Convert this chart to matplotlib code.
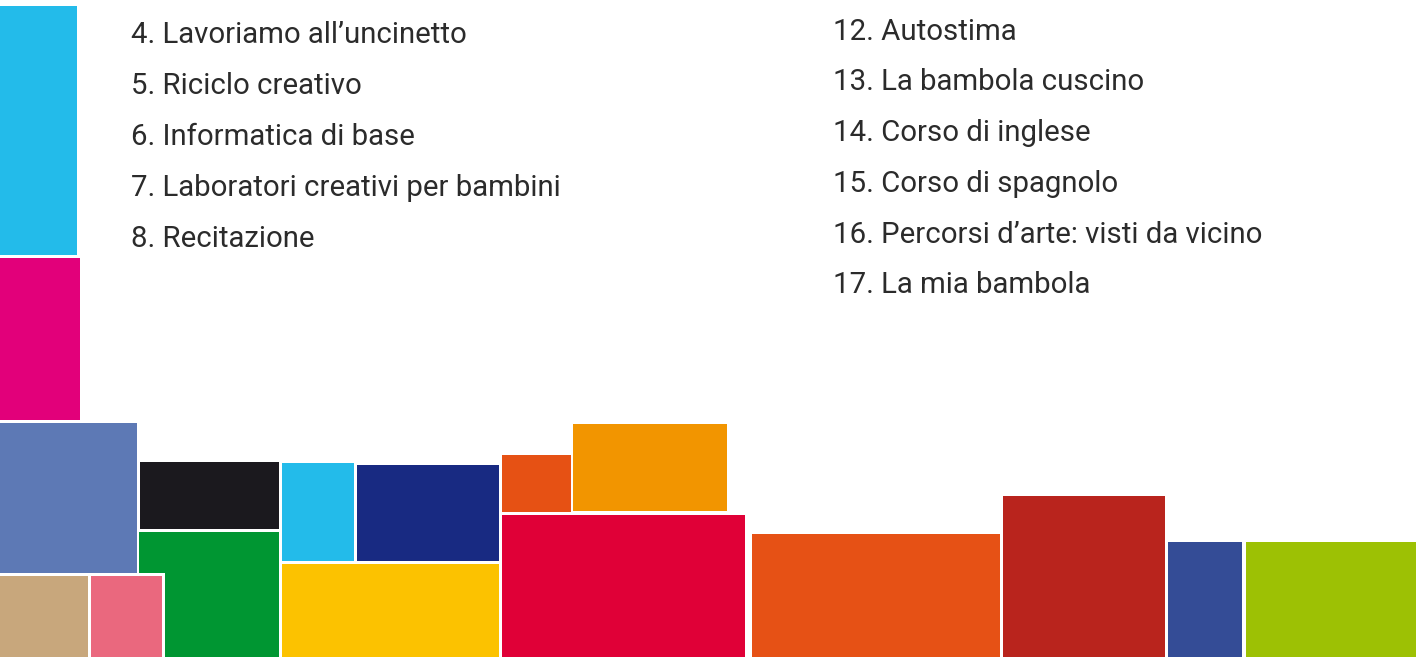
import matplotlib
matplotlib.use("Agg")
import matplotlib.pyplot as plt

# blocks of the mosaic (pixel space, y grows downward)
block_x0 = [0, 0, 0, 140, 139, 165, 0, 91, 282, 357, 282, 502, 573, 502, 752, 1003, 1168, 1246]
block_x1 = [77, 80, 137, 279, 279, 279, 88, 162, 354, 499, 499, 571, 727, 745, 1000, 1165, 1242, 1416]
block_y0 = [6, 258, 423, 462, 532, 573, 576, 576, 463, 465, 564, 455, 424, 515, 534, 496, 542, 542]
block_y1 = [255, 420, 573, 529, 573, 657, 657, 657, 561, 561, 657, 512, 511, 657, 657, 657, 657, 657]
block_colors = ["#23BBEA", "#E2007A", "#5D79B5", "#1B191E", "#009632", "#009632",
                "#C8A77C", "#EA687E", "#23BBEA", "#182A82", "#FCC200", "#E65114",
                "#F29500", "#E00037", "#E65115", "#B9241D", "#344C96", "#9DC104"]

left_items = ["4. Lavoriamo all\u2019uncinetto", "5. Riciclo creativo", "6. Informatica di base",
              "7. Laboratori creativi per bambini", "8. Recitazione"]
left_base = [43, 94, 145, 196, 247]
right_items = ["12. Autostima", "13. La bambola cuscino", "14. Corso di inglese",
               "15. Corso di spagnolo", "16. Percorsi d\u2019arte: visti da vicino", "17. La mia bambola"]
right_base = [40, 90, 141, 192, 243, 293]

fig = plt.figure(figsize=(14.16, 6.57), dpi=100)
ax = fig.add_axes([0, 0, 1, 1])
ax.set_xlim(0, 1416)
ax.set_ylim(657, 0)
ax.axis("off")

for x0, x1, y0, y1, c in zip(block_x0, block_x1, block_y0, block_y1, block_colors):
    ax.bar(x0, y1 - y0, width=x1 - x0, bottom=y0, align="edge", color=c, linewidth=0)

for txt, y in zip(left_items, left_base):
    ax.text(131, y, txt, fontsize=21.2, family="Roboto", color="#2b2b2b", va="baseline", ha="left")
for txt, y in zip(right_items, right_base):
    ax.text(833, y, txt, fontsize=21.2, family="Roboto", color="#2b2b2b", va="baseline", ha="left")

fig.savefig("out.png", dpi=100)
